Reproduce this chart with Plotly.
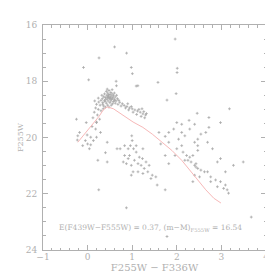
import plotly.graph_objects as go

# Isochrone (red line)
iso_x = [-0.22, 0.08, 0.26, 0.36, 0.44, 0.58, 0.80, 1.02, 1.24, 1.45, 1.67, 1.89, 2.11, 2.29, 2.47, 2.65, 2.83, 2.99]
iso_y = [20.17, 19.59, 19.24, 19.00, 18.91, 18.98, 19.21, 19.45, 19.64, 19.88, 20.17, 20.46, 20.81, 21.16, 21.51, 21.86, 22.16, 22.33]

# Scattered stars
sparse_x = [0.605, 1.963, 0.874, 0.256, -0.092, 0.98, 2.01, 1.004, 2.006, 0.024, 1.578, 0.64, 1.09, 1.985, 1.78, 3.18, 2.457, 2.275, 2.72, 0.647, 1.127]
sparse_y = [16.78, 16.50, 17.0, 17.17, 17.51, 17.51, 17.54, 17.73, 17.69, 17.95, 18.04, 18.0, 18.17, 18.44, 18.67, 18.98, 19.14, 19.39, 19.29, 18.16, 18.16]

cluster_x = [0.42, 0.48, 0.52, 0.45, 0.38, 0.55, 0.50, 0.43, 0.47, 0.53, 0.58, 0.36, 0.40, 0.46, 0.51, 0.56, 0.62, 0.33, 0.44, 0.49,
             0.54, 0.60, 0.67, 0.30, 0.38, 0.46, 0.52, 0.58, 0.64, 0.70, 0.25, 0.34, 0.42, 0.50, 0.56, 0.72, 0.78, 0.20, 0.28, 0.36,
             0.45, 0.62, 0.82, 0.88, 0.94, 1.00, 1.06, 1.12, 1.18, 1.24, 1.30, 1.02, 1.10, 1.20, 1.28, 0.85, 0.92, 0.98, 0.75, 0.68,
             0.18, 0.24, 0.30, 0.15, 0.22, 0.12, 0.27, 0.20, 0.35, 0.40, 0.53, 0.48, 0.16, 0.24, 0.32, 0.55, 0.60, 0.44, 0.65, 0.50,
             0.47, 0.41, 0.57, 0.52, 0.45, 0.39, 0.61, 0.34, 1.26, 1.22, 1.15, 0.90, 1.32]
cluster_y = [18.36, 18.33, 18.40, 18.42, 18.45, 18.45, 18.47, 18.50, 18.53, 18.52, 18.50, 18.55, 18.58, 18.58, 18.57, 18.60, 18.56, 18.62, 18.63, 18.62,
             18.65, 18.64, 18.62, 18.68, 18.68, 18.70, 18.70, 18.72, 18.70, 18.68, 18.74, 18.76, 18.78, 18.76, 18.80, 18.75, 18.80, 18.82, 18.85, 18.88,
             18.85, 18.78, 18.86, 18.90, 18.95, 18.98, 19.02, 19.06, 19.10, 19.16, 19.20, 19.10, 19.18, 19.25, 19.30, 18.95, 19.02, 18.90, 18.88, 18.82,
             18.95, 19.00, 19.05, 19.10, 19.20, 19.30, 19.35, 19.45, 18.98, 18.92, 18.85, 18.92, 18.70, 18.60, 18.50, 18.30, 18.42, 18.28, 18.50, 18.58,
             18.48, 18.64, 18.56, 18.62, 18.55, 18.72, 18.68, 18.82, 19.08, 18.98, 19.00, 18.80, 19.15]

left_x = [-0.25, -0.22, -0.23, -0.18, -0.11, -0.05, -0.01, -0.03, 0.0, 0.04, 0.07, 0.13, 0.07, 0.20, 0.23, 0.44, 0.40, 0.44, 0.25, 0.18, 0.20, 0.10, 0.29]
left_y = [19.35, 19.94, 20.09, 19.82, 20.29, 20.11, 19.91, 19.47, 20.23, 20.40, 20.26, 20.11, 19.99, 19.99, 20.81, 20.17, 20.54, 20.87, 21.86, 19.70, 19.47, 19.61, 19.82]

mid_x = [0.99, 1.00, 0.96, 1.03, 0.94, 0.91, 0.83, 1.09, 1.16, 1.23, 1.05, 0.98, 1.13, 1.20, 1.31, 1.38, 1.27, 1.35, 1.24, 1.13, 1.02, 0.98, 1.45, 1.42, 1.53,
         0.66, 0.73, 0.80, 0.87, 0.91, 0.83, 1.24, 1.09, 1.56, 1.74, 0.87, 1.78]
mid_y = [19.94, 20.11, 20.29, 20.40, 20.64, 20.40, 20.29, 20.52, 20.70, 20.75, 20.81, 20.99, 20.93, 20.99, 20.87, 20.99, 21.10, 21.22, 21.28, 21.22, 21.22, 21.34, 21.34, 21.46, 21.40,
         20.40, 20.40, 20.87, 20.93, 20.75, 20.64, 20.40, 20.29, 21.69, 21.86, 22.50, 23.52]

right_x = [1.93, 2.11, 2.04, 2.18, 2.29, 2.40, 2.47, 2.54, 2.65, 2.72, 2.11, 2.00, 2.14, 2.22, 2.29, 2.36, 2.25, 2.32, 2.43, 2.43, 2.47, 2.54, 2.62, 2.69, 2.40,
           2.51, 2.36, 2.40, 2.18, 2.76, 2.87, 2.98, 3.09, 3.13, 3.16, 3.05, 2.76, 2.91, 2.69, 2.80, 2.91, 2.98, 2.47, 2.47, 3.09, 3.27, 3.49, 3.67, 2.40, 2.11,
           1.82, 2.00, 1.60, 1.64, 1.82, 1.74, 1.96, 1.82, 2.98, 1.74]
right_y = [19.70, 19.82, 20.06, 19.94, 19.70, 20.17, 20.06, 19.88, 19.82, 19.64, 20.29, 20.40, 20.52, 20.64, 20.70, 20.64, 20.81, 20.87, 20.93, 21.05, 21.10, 21.16, 21.22, 21.22, 21.34,
           21.40, 21.57, 20.99, 20.81, 21.40, 21.51, 21.57, 21.69, 21.86, 21.98, 21.81, 21.57, 21.75, 20.17, 20.40, 20.87, 20.75, 20.29, 20.46, 21.22, 20.99, 20.87, 22.83, 19.53, 19.53,
           19.82, 19.47, 19.82, 20.23, 20.93, 20.64, 20.64, 20.17, 19.47, 19.96]

star_x = sparse_x + cluster_x + left_x + mid_x + right_x
star_y = sparse_y + cluster_y + left_y + mid_y + right_y

x_ticks = [-1, 0, 1, 2, 3, 4]
y_ticks = [16, 18, 20, 22, 24]

GRAY = "#b0b0b0"
FONT = "DejaVu Serif"

fig = go.Figure()
fig.add_trace(go.Scatter(x=star_x, y=star_y, mode="markers",
                         marker=dict(symbol="cross-thin", size=2, color="#a8a8a8",
                                     line=dict(width=0.8, color="#a8a8a8")),
                         hoverinfo="skip"))
fig.add_trace(go.Scatter(x=iso_x, y=iso_y, mode="lines",
                         line=dict(color="#f7b8b8", width=1), hoverinfo="skip"))

fig.add_annotation(x=1.42, y=23.2, xref="x", yref="y", showarrow=False,
                   text="E(F439W\u2212F555W) = 0.37, (m\u2212M)<sub>F555W</sub> = 16.54",
                   font=dict(family=FONT, size=7.5, color=GRAY))

axis_common = dict(showgrid=False, zeroline=False, showline=True, linecolor=GRAY, linewidth=1,
                   mirror="ticks", ticks="inside", tickcolor=GRAY, ticklen=5, tickwidth=1,
                   tickfont=dict(family=FONT, size=9, color=GRAY))

fig.update_xaxes(range=[-1, 4], tickvals=x_ticks, ticktext=[str(v).replace("-", "\u2212") for v in x_ticks],
                 ticklabelstandoff=-2,
                 minor=dict(dtick=0.2, ticks="inside", ticklen=2.5, tickcolor=GRAY),
                 title=dict(text="F255W \u2212 F336W", font=dict(family=FONT, size=10, color=GRAY), standoff=0),
                 **axis_common)
fig.update_yaxes(range=[24, 16], tickvals=y_ticks, ticktext=[str(v) for v in y_ticks],
                 ticklabelstandoff=3,
                 minor=dict(dtick=0.5, ticks="inside", ticklen=2.5, tickcolor=GRAY),
                 title=dict(text="F255W", font=dict(family=FONT, size=8, color=GRAY), standoff=0),
                 **axis_common)

fig.update_layout(width=273, height=273, showlegend=False,
                  margin=dict(l=31, r=13, t=14, b=30),
                  paper_bgcolor="white", plot_bgcolor="white")

fig.write_html("out.html")
